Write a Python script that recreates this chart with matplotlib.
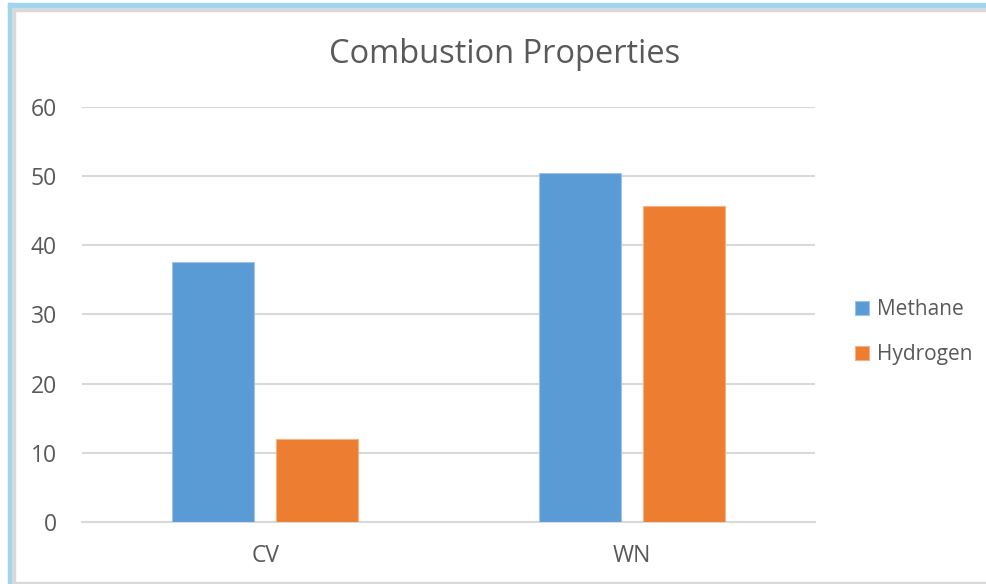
import numpy as np
import matplotlib.pyplot as plt
from matplotlib.patches import Rectangle

plt.rcParams['font.family'] = ['Open Sans', 'DejaVu Sans']

categories = ['CV', 'WN']
series = ['Methane', 'Hydrogen']
methane = [37.6, 50.5]
hydrogen = [12.0, 45.7]
colors = ['#5B9BD5', '#ED7D31']
edges = ['#9DC3E6', '#F4B183']

fig = plt.figure(figsize=(9.86, 5.84), dpi=100)
ax = fig.add_axes([0.0832, 0.1062, 0.7434, 0.7106])

x = np.arange(len(categories))
w = 0.224
off = 0.142
for vals, name, c, ec, d in zip([methane, hydrogen], series, colors, edges, [-off, off]):
    ax.bar(x + d, vals, w, color=c, edgecolor=ec, linewidth=0.8, label=name, zorder=3)

ax.set_xlim(-0.5, 1.5)
ax.set_ylim(0, 60)
ax.set_yticks(range(0, 61, 10))
ax.set_xticks(x)
ax.set_xticklabels(categories)
ax.grid(axis='y', color='#D9D9D9', linewidth=1.5, zorder=0)
for s in ['top', 'right', 'left']:
    ax.spines[s].set_visible(False)
ax.spines['bottom'].set_color('#D9D9D9')
ax.spines['bottom'].set_linewidth(1.5)
ax.tick_params(axis='both', length=0, labelsize=16.5, labelcolor='#595959')
ax.tick_params(axis='y', pad=18)
ax.tick_params(axis='x', pad=16)

fig.text(0.512, 0.906, 'Combustion Properties', ha='center', va='center',
         fontsize=23.5, color='#595959')

leg = ax.legend(loc='center left', bbox_to_anchor=(1.0546, 0.457), frameon=False,
                fontsize=15, labelcolor='#595959', handlelength=0.67, handleheight=0.67,
                handletextpad=0.4, labelspacing=1.15, borderpad=0, borderaxespad=0)

# frame around the chart
fig.patches.append(Rectangle((8 / 986, 0), 4 / 986, 1 - 3 / 584, transform=fig.transFigure,
                             color='#9DD6EE', zorder=0))
fig.patches.append(Rectangle((8 / 986, 1 - 8 / 584), 1, 5 / 584, transform=fig.transFigure,
                             color='#9DD6EE', zorder=0))
fig.patches.append(Rectangle((12 / 986, 0), 2.5 / 986, 1 - 8 / 584, transform=fig.transFigure,
                             color='#D9D9D9', zorder=0))
fig.patches.append(Rectangle((12 / 986, 1 - 10.5 / 584), 1, 2.5 / 584, transform=fig.transFigure,
                             color='#D9D9D9', zorder=0))
fig.patches.append(Rectangle((12 / 986, 0), 1, 2.5 / 584, transform=fig.transFigure,
                             color='#D9D9D9', zorder=0))

fig.savefig('out.png', dpi=100)
